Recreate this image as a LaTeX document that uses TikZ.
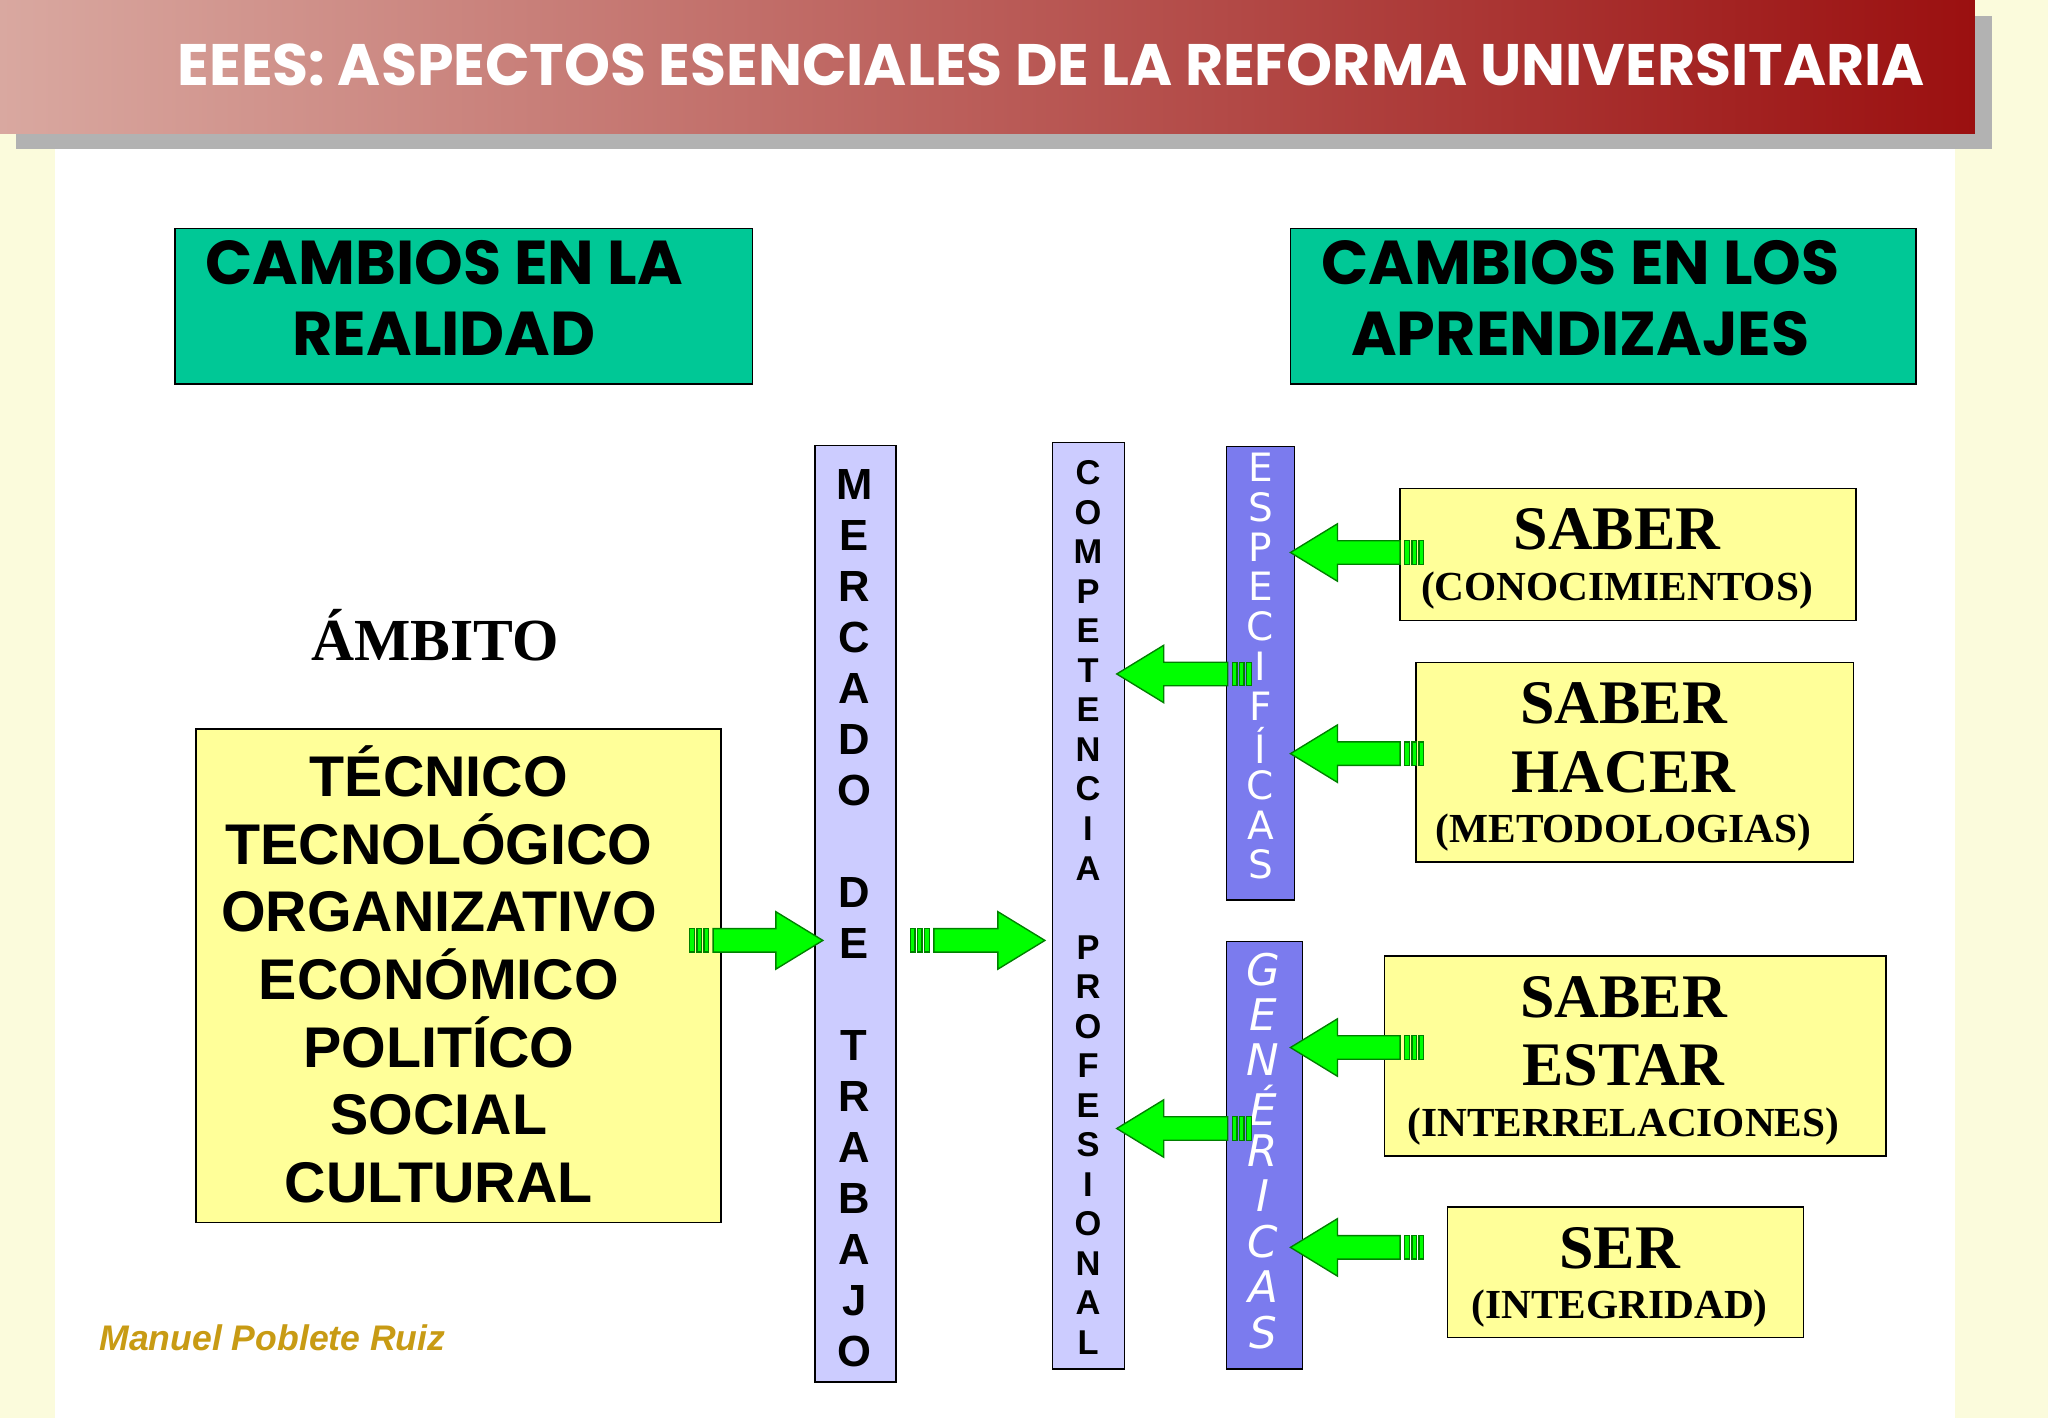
\documentclass[tikz,border=0pt]{standalone}
\usepackage{fontspec}
\setmainfont{Liberation Serif}
\setsansfont{Liberation Sans}
\newfontfamily\comic{Poppins}
\newfontfamily\thin{DejaVu Sans}
\definecolor{bgy}{HTML}{FBFBDC}
\definecolor{teal}{HTML}{00C896}
\definecolor{yel}{HTML}{FFFF99}
\definecolor{lav}{HTML}{CCCCFF}
\definecolor{vio}{HTML}{7B7BEE}
\definecolor{grn}{HTML}{00FF00}
\definecolor{tl}{HTML}{D9A8A0}
\definecolor{tr}{HTML}{9B1010}
\definecolor{gold}{HTML}{C89B14}
\newcommand\gar[3]{% x tail, x tip, y
 \pgfmathsetmacro\dir{(#2>#1)?1:-1}
 \pgfmathsetmacro\bs{#1+\dir*18}
 \pgfmathsetmacro\hb{#2-\dir*36}
 \fill[grn,draw=green!50!black,line width=0.6pt] (\bs,#3-9)--(\hb,#3-9)--(\hb,#3-22)--(#2,#3)--(\hb,#3+22)--(\hb,#3+9)--(\bs,#3+9)--cycle;
 \foreach \k in {0,1,2}{\fill[grn,draw=green!50!black,line width=0.6pt] ({#1+\dir*\k*5.5},#3-9) rectangle ({#1+\dir*(\k*5.5+3.5)},#3+9);}
}
\tikzset{box/.style={draw=black,line width=0.6pt},
 lt/.style={font=\sffamily\bfseries\fontsize{19}{19}\selectfont,inner sep=0},
 big/.style={font=\bfseries\fontsize{18}{22}\selectfont,align=center},
}
\newcommand\bg[1]{{\fontsize{27}{27}\selectfont #1}}
\begin{document}
\begin{tikzpicture}[x=0.02cm,y=-0.02cm]
\useasboundingbox (0,0) rectangle (1568,1086);
\fill[bgy] (0,0) rectangle (1568,1086);
\fill[white] (42,108) rectangle (1497,1086);
\fill[gray!60] (12,12) rectangle (1525,114);
\shade[left color=tl,right color=tr] (0,0) rectangle (1512,102);
\node[white,font=\comic\bfseries\fontsize{25.5}{26}\selectfont] (title) at (805,50) {EEES: ASPECTOS ESENCIALES DE LA REFORMA UNIVERSITARIA};
\draw[box,fill=teal] (134,175) rectangle (576,294);
\node[font=\comic\bfseries\fontsize{27}{27}\selectfont,align=center] (t1) at (340,228) {CAMBIOS EN LA\\[4pt]REALIDAD};
\draw[box,fill=teal] (988,175) rectangle (1467,294);
\node[font=\comic\bfseries\fontsize{27}{27}\selectfont,align=center] (t2) at (1210,228) {CAMBIOS EN LOS\\[4pt]APRENDIZAJES};
\node[font=\bfseries\fontsize{26}{26}\selectfont] (amb) at (333,486) {ÁMBITO};
\draw[box,fill=yel] (150,558) rectangle (552,936);
\node[font=\sffamily\bfseries\fontsize{25}{29.5}\selectfont,align=center] (amb2) at (336,746) {TÉCNICO\\TECNOLÓGICO\\ORGANIZATIVO\\ECONÓMICO\\POLITÍCO\\SOCIAL\\CULTURAL};
\draw[box,fill=lav] (624,341) rectangle (686,1058);
\foreach \c [count=\i from 0] in {M,E,R,C,A,D,O,{},D,E,{},T,R,A,B,A,J,O}
  \node[lt] at (654,371+\i*39.06) {\c};
\draw[box,fill=lav] (806,339) rectangle (861,1048);
\foreach \c [count=\i from 0] in {C,O,M,P,E,T,E,N,C,I,A,{},P,R,O,F,E,S,I,O,N,A,L}
  \node[lt,font=\sffamily\bfseries\fontsize{15}{15}\selectfont] at (833,362+\i*30.27) {\c};
\draw[box,fill=vio] (939,342) rectangle (991,689);
\foreach \c [count=\i from 0] in {E,S,P,E,C,I,F,Í,C,A,S}
  \node[white,inner sep=0,font=\thin\fontsize{17}{17}\selectfont] at (965,358+\i*30.4) {\c};
\draw[box,fill=vio] (939,721) rectangle (997,1048);
\foreach \c [count=\i from 0] in {G,E,N,É,R,I,C,A,S}
  \node[white,inner sep=0,font=\thin\itshape\fontsize{19}{19}\selectfont] at (967,742+\i*34.75) {\c};
\draw[box,fill=yel] (1072,374) rectangle (1421,475);
\node[big] (s1) at (1238,428) {\bg{SABER}\\(CONOCIMIENTOS)};
\draw[box,fill=yel] (1084,507) rectangle (1419,660);
\node[big] (s2) at (1243,587) {\bg{SABER}\\[8pt]\bg{HACER}\\(METODOLOGIAS)};
\draw[box,fill=yel] (1060,732) rectangle (1444,885);
\node[big] (s3) at (1243,812) {\bg{SABER}\\[8pt]\bg{ESTAR}\\(INTERRELACIONES)};
\draw[box,fill=yel] (1108,924) rectangle (1381,1024);
\node[big] (s4) at (1240,978) {\bg{SER}\\(INTEGRIDAD)};
\gar{528}{630}{720}
\gar{697}{800}{720}
\gar{1090}{988}{423}
\gar{1090}{988}{577}
\gar{1090}{988}{802}
\gar{1090}{988}{955}
\gar{958}{855}{516}
\gar{958}{855}{864}
\node[gold,font=\sffamily\bfseries\itshape\fontsize{15.5}{15}\selectfont,anchor=west] (auth) at (70,1024) {Manuel Poblete Ruiz};
\end{tikzpicture}
\end{document}
